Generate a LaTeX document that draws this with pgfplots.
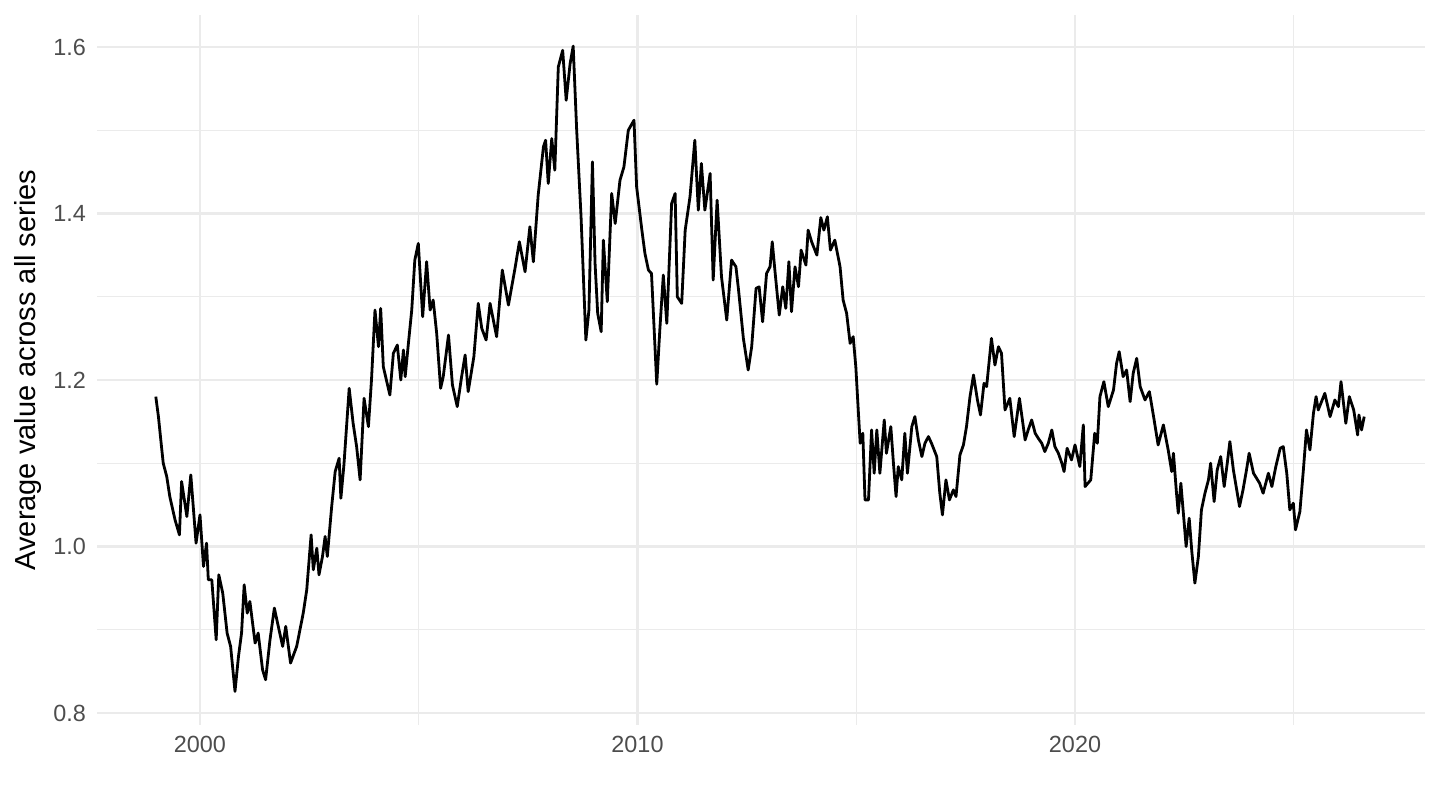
\documentclass[border=0pt]{standalone}
\usepackage{pgfplots}
\pgfplotsset{compat=1.18}
\usepackage{fontspec}
\setmainfont{Liberation Sans}
\definecolor{gridc}{HTML}{EBEBEB}
\definecolor{tickc}{HTML}{4D4D4D}
\pgfplotstableread{
year value
1998.99 1.180
1999.05 1.156
1999.12 1.120
1999.16 1.100
1999.24 1.084
1999.31 1.060
1999.43 1.032
1999.53 1.014
1999.58 1.078
1999.70 1.036
1999.79 1.086
1999.91 1.004
2000.00 1.038
2000.08 0.976
2000.15 1.004
2000.19 0.960
2000.27 0.960
2000.37 0.888
2000.43 0.966
2000.52 0.944
2000.62 0.896
2000.70 0.880
2000.80 0.826
2000.88 0.868
2000.95 0.896
2001.01 0.954
2001.08 0.920
2001.14 0.934
2001.26 0.884
2001.33 0.896
2001.43 0.852
2001.50 0.840
2001.60 0.888
2001.70 0.926
2001.79 0.904
2001.89 0.880
2001.96 0.904
2002.07 0.860
2002.21 0.880
2002.36 0.920
2002.44 0.948
2002.54 1.014
2002.59 0.972
2002.67 0.998
2002.72 0.966
2002.80 0.988
2002.86 1.012
2002.91 0.988
2003.01 1.048
2003.09 1.090
2003.18 1.106
2003.22 1.058
2003.29 1.098
2003.41 1.190
2003.50 1.148
2003.58 1.120
2003.66 1.080
2003.75 1.178
2003.85 1.144
2003.92 1.200
2004.00 1.284
2004.08 1.240
2004.13 1.286
2004.19 1.216
2004.34 1.182
2004.42 1.232
2004.51 1.242
2004.59 1.200
2004.65 1.236
2004.69 1.204
2004.76 1.242
2004.84 1.284
2004.91 1.344
2004.99 1.364
2005.09 1.276
2005.18 1.342
2005.26 1.284
2005.33 1.296
2005.41 1.256
2005.50 1.190
2005.56 1.204
2005.68 1.254
2005.77 1.194
2005.88 1.168
2005.98 1.204
2006.06 1.230
2006.13 1.186
2006.26 1.228
2006.36 1.292
2006.44 1.262
2006.54 1.248
2006.63 1.292
2006.78 1.252
2006.91 1.332
2007.05 1.290
2007.20 1.334
2007.30 1.366
2007.43 1.330
2007.54 1.384
2007.62 1.342
2007.73 1.422
2007.85 1.480
2007.90 1.488
2007.96 1.436
2008.04 1.490
2008.11 1.452
2008.19 1.576
2008.29 1.596
2008.37 1.536
2008.46 1.580
2008.53 1.601
2008.61 1.500
2008.71 1.396
2008.82 1.248
2008.89 1.284
2008.97 1.462
2009.03 1.340
2009.09 1.280
2009.17 1.258
2009.22 1.368
2009.31 1.294
2009.41 1.424
2009.49 1.388
2009.60 1.440
2009.69 1.456
2009.79 1.500
2009.92 1.512
2009.98 1.432
2010.10 1.380
2010.17 1.352
2010.25 1.332
2010.32 1.328
2010.44 1.195
2010.51 1.260
2010.59 1.326
2010.67 1.268
2010.78 1.412
2010.86 1.424
2010.91 1.300
2011.01 1.292
2011.09 1.380
2011.20 1.420
2011.31 1.488
2011.39 1.404
2011.46 1.460
2011.54 1.404
2011.66 1.448
2011.73 1.320
2011.82 1.416
2011.92 1.324
2012.04 1.272
2012.15 1.344
2012.25 1.336
2012.31 1.308
2012.42 1.250
2012.53 1.212
2012.61 1.240
2012.71 1.310
2012.78 1.312
2012.86 1.270
2012.95 1.328
2013.03 1.336
2013.08 1.366
2013.14 1.332
2013.24 1.278
2013.32 1.312
2013.39 1.286
2013.46 1.342
2013.52 1.282
2013.60 1.336
2013.68 1.312
2013.74 1.356
2013.85 1.338
2013.90 1.380
2013.98 1.366
2014.10 1.350
2014.19 1.395
2014.26 1.380
2014.34 1.396
2014.41 1.356
2014.51 1.368
2014.63 1.336
2014.70 1.296
2014.78 1.280
2014.86 1.244
2014.93 1.252
2014.99 1.216
2015.05 1.160
2015.09 1.124
2015.15 1.136
2015.20 1.056
2015.28 1.056
2015.35 1.140
2015.41 1.088
2015.47 1.140
2015.54 1.088
2015.64 1.152
2015.69 1.112
2015.79 1.144
2015.85 1.100
2015.91 1.060
2015.96 1.096
2016.04 1.080
2016.11 1.136
2016.17 1.088
2016.27 1.144
2016.34 1.156
2016.42 1.128
2016.50 1.108
2016.57 1.124
2016.65 1.132
2016.72 1.124
2016.84 1.108
2016.91 1.064
2016.97 1.038
2017.05 1.080
2017.13 1.056
2017.22 1.068
2017.28 1.060
2017.37 1.110
2017.45 1.122
2017.52 1.144
2017.60 1.180
2017.68 1.206
2017.77 1.176
2017.84 1.158
2017.92 1.196
2017.98 1.192
2018.09 1.250
2018.17 1.218
2018.25 1.240
2018.32 1.232
2018.40 1.164
2018.51 1.178
2018.61 1.132
2018.73 1.178
2018.86 1.128
2018.93 1.140
2019.01 1.152
2019.09 1.136
2019.16 1.130
2019.24 1.124
2019.31 1.114
2019.39 1.124
2019.47 1.140
2019.54 1.120
2019.62 1.112
2019.70 1.100
2019.75 1.090
2019.82 1.118
2019.92 1.104
2020.00 1.122
2020.11 1.096
2020.19 1.146
2020.23 1.072
2020.36 1.080
2020.45 1.136
2020.51 1.124
2020.57 1.180
2020.66 1.198
2020.76 1.168
2020.88 1.188
2020.95 1.220
2021.01 1.234
2021.10 1.204
2021.18 1.212
2021.26 1.174
2021.33 1.208
2021.41 1.226
2021.49 1.192
2021.60 1.176
2021.70 1.186
2021.79 1.158
2021.90 1.122
2022.02 1.146
2022.13 1.116
2022.21 1.090
2022.25 1.112
2022.32 1.064
2022.36 1.040
2022.42 1.076
2022.54 1.000
2022.61 1.034
2022.67 0.994
2022.74 0.956
2022.82 0.988
2022.89 1.044
2022.97 1.064
2023.05 1.080
2023.10 1.100
2023.18 1.054
2023.25 1.092
2023.33 1.108
2023.41 1.072
2023.48 1.100
2023.54 1.126
2023.62 1.092
2023.76 1.048
2023.84 1.068
2023.92 1.092
2023.98 1.112
2024.08 1.088
2024.22 1.076
2024.30 1.064
2024.42 1.088
2024.50 1.072
2024.59 1.096
2024.69 1.118
2024.76 1.120
2024.84 1.088
2024.91 1.044
2024.99 1.052
2025.04 1.020
2025.14 1.042
2025.22 1.092
2025.29 1.140
2025.37 1.116
2025.45 1.160
2025.51 1.180
2025.56 1.164
2025.62 1.172
2025.71 1.184
2025.83 1.156
2025.94 1.176
2026.02 1.168
2026.08 1.198
2026.19 1.148
2026.27 1.180
2026.37 1.164
2026.46 1.134
2026.49 1.158
2026.55 1.140
2026.61 1.156
}\fxdata
\begin{document}
\begin{tikzpicture}
\useasboundingbox (0,0) rectangle (720pt,405pt);
\begin{axis}[
  at={(48.5pt,42.5pt)}, anchor=south west,
  width=664pt, height=355pt, scale only axis,
  xmin=1997.646, xmax=2028.0, ymin=0.7856, ymax=1.6384,
  axis line style={draw=none},
  major tick length=0pt, minor tick length=0pt,
  xtick={2000,2010,2020}, minor xtick={2005,2015,2025},
  ytick={0.8,1.0,1.2,1.4,1.6}, minor ytick={0.9,1.1,1.3,1.5},
  grid=both,
  major grid style={draw=gridc, line width=1.2pt},
  minor grid style={draw=gridc, line width=0.6pt},
  tick label style={font=\fontsize{11.7}{14}\selectfont, text=tickc},
  /pgf/number format/assume math mode=true,
  xticklabel style={/pgf/number format/1000 sep={}, yshift=-2pt},
  yticklabel style={/pgf/number format/.cd, fixed, fixed zerofill, precision=1, /tikz/.cd, xshift=-2pt},
  ylabel={Average value across all series},
  every axis y label/.style={at={(rel axis cs:0,0.5)}, xshift=-34.5pt, rotate=90, anchor=center, font=\fontsize{14.5}{17}\selectfont},
]
\addplot[black, line width=1.4pt, line join=round] table[x=year, y=value] {\fxdata};
\end{axis}
\end{tikzpicture}
\end{document}
